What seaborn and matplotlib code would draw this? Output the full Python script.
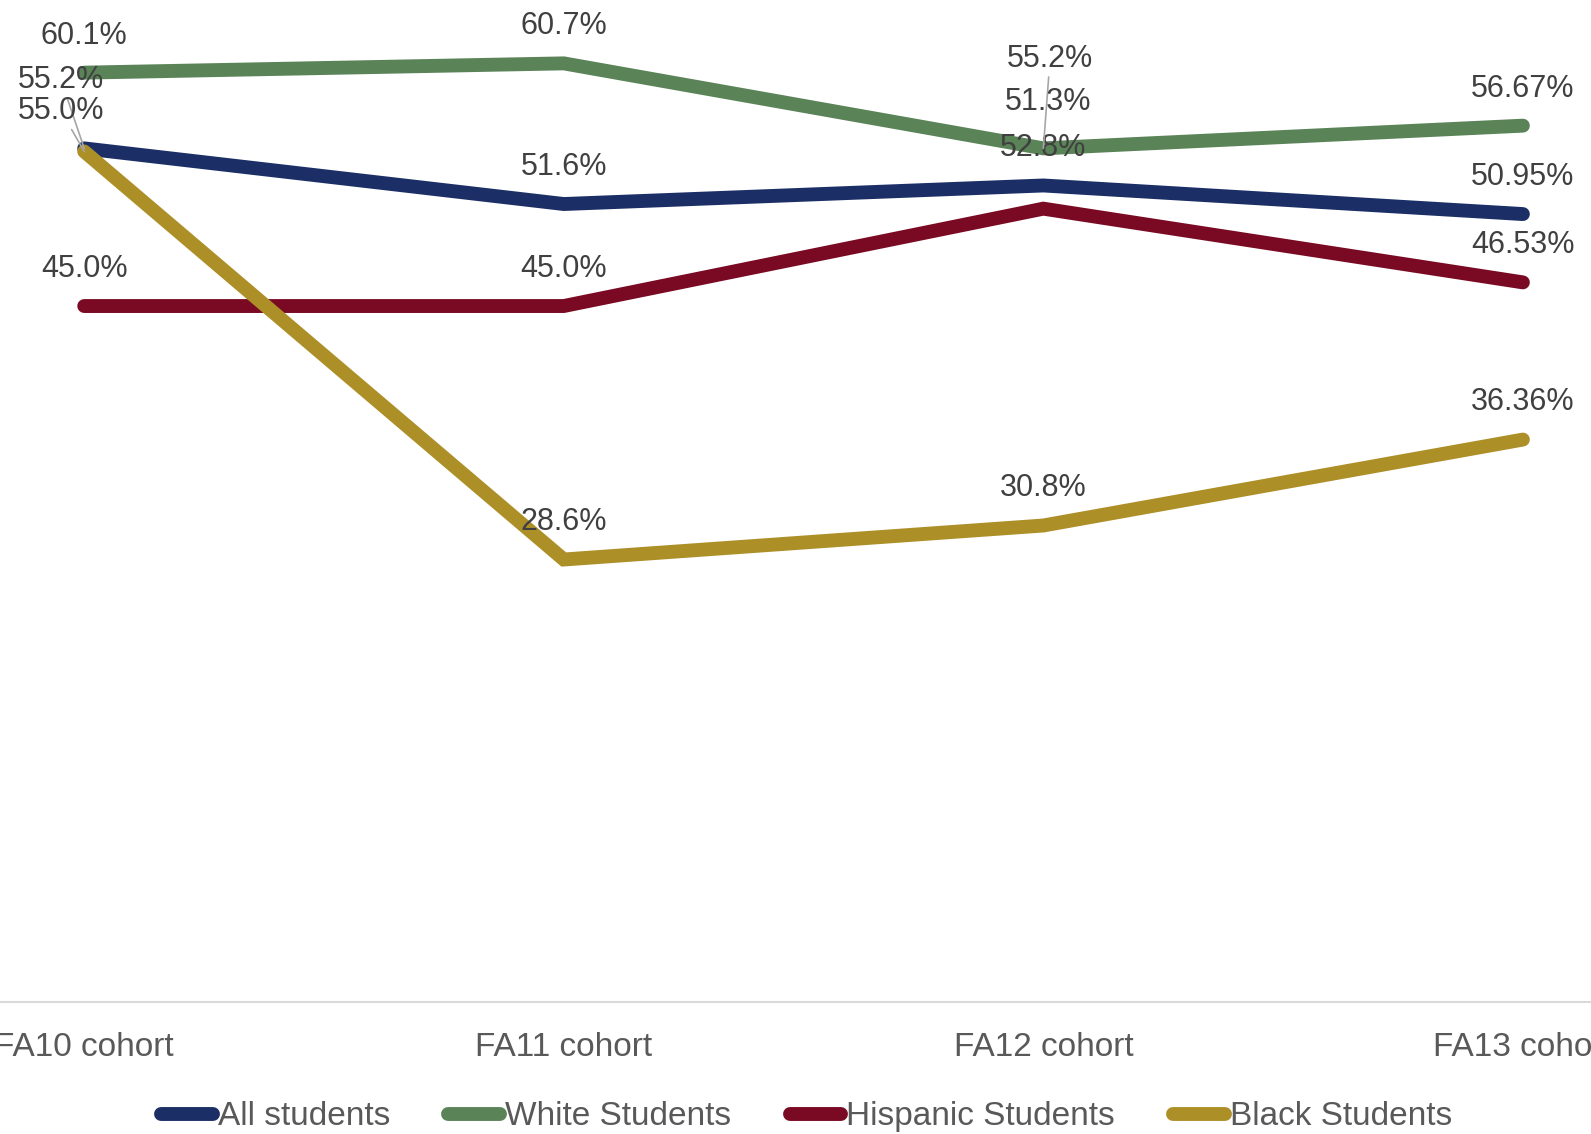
import matplotlib
matplotlib.use("Agg")
import matplotlib.pyplot as plt
import seaborn as sns
import pandas as pd

cohorts = ["FA10 cohort", "FA11 cohort", "FA12 cohort", "FA13 cohort"]
all_students = [55.2, 51.6, 52.8, 50.95]
white_students = [60.1, 60.7, 55.2, 56.67]
hispanic_students = [45.0, 45.0, 51.3, 46.53]
black_students = [55.0, 28.6, 30.8, 36.36]
label_text = {
    "All students": ["55.2%", "51.6%", "52.8%", "50.95%"],
    "White Students": ["60.1%", "60.7%", "55.2%", "56.67%"],
    "Hispanic Students": ["45.0%", "45.0%", "51.3%", "46.53%"],
    "Black Students": ["55.0%", "28.6%", "30.8%", "36.36%"],
}
series_names = ["All students", "White Students", "Hispanic Students", "Black Students"]
series_values = [all_students, white_students, hispanic_students, black_students]
colors = ["#1B2F66", "#5A8458", "#7A0A23", "#AD8F27"]

rows = []
for name, vals in zip(series_names, series_values):
    for c, v in zip(cohorts, vals):
        rows.append({"cohort": c, "value": v, "group": name})
df = pd.DataFrame(rows)

sns.set_theme(style="white")
plt.rcParams["font.family"] = ["Liberation Sans", "DejaVu Sans"]

fig = plt.figure(figsize=(15.91, 11.34), dpi=100)
ax = fig.add_axes([0, 0.1168, 1, 0.8832])

sns.lineplot(data=df, x="cohort", y="value", hue="group", hue_order=series_names,
             palette=colors, linewidth=10, solid_capstyle="round",
             solid_joinstyle="miter", legend=False, ax=ax, sort=False)

ax.set_xlim(-0.1756, 3.142)
ax.set_ylim(0, 64.8)
ax.set_xlabel("")
ax.set_ylabel("")
ax.set_yticks([])
for s in ["left", "right", "top"]:
    ax.spines[s].set_visible(False)
ax.spines["bottom"].set_color("#D9D9D9")
ax.spines["bottom"].set_linewidth(1.5)
ax.tick_params(axis="x", length=0, pad=22, labelsize=24, labelcolor="#595959")

# label placement overrides for crowded points: (x, y, draw leader line)
overrides = {
    ("All students", 0): (-0.048, 59.6, True),
    ("Black Students", 0): (-0.048, 57.6, True),
    ("White Students", 2): (2.014, 61.0, True),
    ("Hispanic Students", 2): (2.01, 58.2, False),
}
offset = 2.4
for name, vals in zip(series_names, series_values):
    for i, v in enumerate(vals):
        txt = label_text[name][i]
        if (name, i) in overrides:
            tx, ty, leader = overrides[(name, i)]
            if leader:
                ax.annotate(txt, xy=(i, v), xytext=(tx, ty), ha="center", va="center",
                            fontsize=22, color="#404040",
                            arrowprops=dict(arrowstyle="-", color="#A6A6A6", lw=1.2,
                                            shrinkA=0, shrinkB=0))
            else:
                ax.text(tx, ty, txt, ha="center", va="center", fontsize=22,
                        color="#404040")
        else:
            ax.text(i, v + offset, txt, ha="center", va="center", fontsize=22,
                    color="#404040")

handles = ax.get_lines()[:4]
leg = fig.legend(handles, series_names, loc="center", ncol=4,
                 bbox_to_anchor=(0.507, 0.015), frameon=False, fontsize=24,
                 handlelength=1.55, handletextpad=0.15, columnspacing=1.75,
                 labelcolor="#595959")

fig.savefig("out.png", dpi=100)
